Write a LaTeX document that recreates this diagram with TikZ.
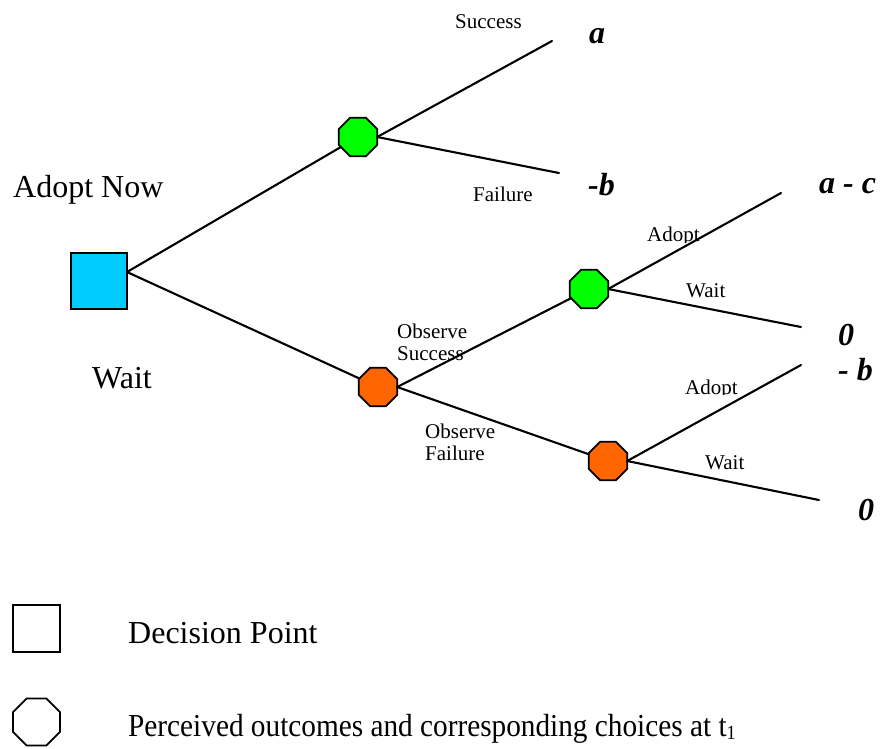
\documentclass[tikz,border=0pt]{standalone}
\usepackage{fontspec}
\setmainfont{Liberation Serif}
\usetikzlibrary{shapes.geometric}

\definecolor{chancegreen}{HTML}{00FF00}
\definecolor{chanceorange}{HTML}{FF6600}
\definecolor{decisioncyan}{HTML}{00CCFF}

\tikzset{
  branch/.style={line width=2.1pt, line cap=round},
  decisionbox/.style={draw, line width=1.7pt, rectangle, minimum size=56pt, inner sep=0pt, outer sep=0pt},
  chancenode/.style={draw, line width=1.7pt, regular polygon, regular polygon sides=8,
    minimum size=41.5pt, inner sep=0pt, outer sep=0pt},
  bigtext/.style={inner sep=0pt, anchor=base west, font=\fontsize{32}{38}\selectfont},
  smalltext/.style={inner sep=0pt, anchor=base west, font=\fontsize{21}{24}\selectfont},
  payoff/.style={inner sep=0pt, anchor=base west, font=\fontsize{32}{38}\selectfont\bfseries\itshape},
}

\begin{document}
\begin{tikzpicture}[x=1pt, y=-1pt]
  \useasboundingbox (0,0) rectangle (880,748);

  % decision and chance nodes
  \node[decisionbox, fill=decisioncyan] (sq) at (99,281) {};
  \node[chancenode, fill=chancegreen]  (g1) at (358,137) {};
  \node[chancenode, fill=chanceorange] (o1) at (378,387) {};
  \node[chancenode, fill=chancegreen]  (g2) at (589,289) {};
  \node[chancenode, fill=chanceorange] (o2) at (608,461) {};

  % branch end points
  \coordinate (sqout) at ([yshift=9pt]sq.east);
  \coordinate (ea)  at (552,41);
  \coordinate (eb)  at (559,173);
  \coordinate (eac) at (781,193);
  \coordinate (ez1) at (801,327);
  \coordinate (emb) at (801,365);
  \coordinate (ez2) at (819,500);

  % branches
  \draw[branch] (sqout) -- (g1);
  \draw[branch] (sqout) -- (o1);
  \draw[branch] (g1.east) -- (ea);
  \draw[branch] (g1.east) -- (eb);
  \draw[branch] (o1.east) -- (g2);
  \draw[branch] (o1.east) -- (o2);
  \draw[branch] (g2.east) -- (eac);
  \draw[branch] (g2.east) -- (ez1);
  \draw[branch] (o2.east) -- (emb);
  \draw[branch] (o2.east) -- (ez2);

  % choice labels
  \node[bigtext] (tadopt) at (13,197) {Adopt Now};
  \node[bigtext] (twait)  at (92,388) {Wait};

  % branch labels
  \node[smalltext] (lsucc) at (455,28)  {Success};
  \node[smalltext] (lfail) at (473,201) {Failure};
  \node[smalltext] (los1)  at (397,338) {Observe};
  \node[smalltext] (los2)  at (397,360) {Success};
  \node[smalltext] (lof1)  at (425,438) {Observe};
  \node[smalltext] (lof2)  at (425,460) {Failure};
  \begin{scope}
    \clip (640,215) rectangle (715,242);
    \node[smalltext] (lad1) at (647,241) {Adopt};
  \end{scope}
  \begin{scope}
    \clip (678,365) rectangle (750,394);
    \node[smalltext] (lad2) at (685,394) {Adopt};
  \end{scope}
  \node[smalltext] (lw1) at (686,297) {Wait};
  \node[smalltext] (lw2) at (705,469) {Wait};

  % payoffs
  \node[payoff] (pa)  at (589,43)  {a};
  \node[payoff] (pb)  at (588,195) {-b};
  \node[payoff] (pac) at (819,193) {a - c};
  \node[payoff] (pz1) at (838,345) {0};
  \node[payoff] (pmb) at (838,380) {- b};
  \node[payoff] (pz2) at (858,520) {0};

  % legend
  \node[decisionbox, minimum size=47.5pt, fill=white] (legsq) at (36.5,628.5) {};
  \node[bigtext] (legsqt) at (128,643) {Decision Point};
  \node[chancenode, minimum size=51pt, fill=white] (legoct) at (36.5,722) {};
  \node[bigtext] (legoctt) at (128,736)
    {\scalebox{0.915}[1]{Perceived outcomes and corresponding choices at t{\fontsize{20}{20}\selectfont\raisebox{-3pt}{1}}}};
\end{tikzpicture}
\end{document}
